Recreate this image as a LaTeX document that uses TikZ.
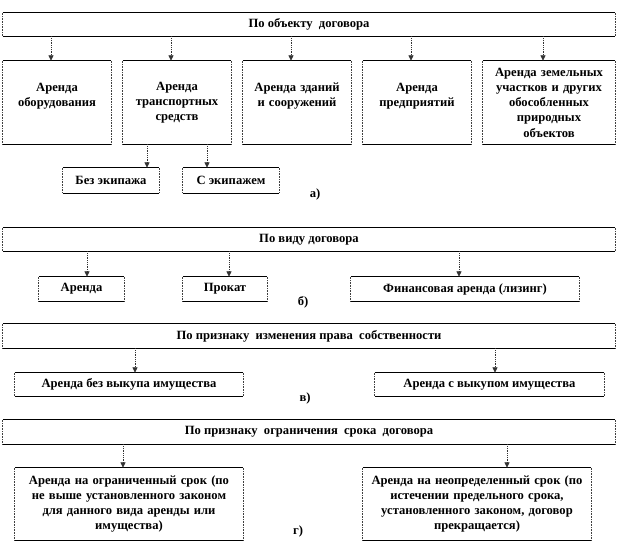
\documentclass[tikz,border=0pt]{standalone}
\usepackage{fontspec}
\setmainfont{Liberation Serif}
\usetikzlibrary{arrows.meta}
\begin{document}
\begin{tikzpicture}[x=1pt,y=1pt,
  bx/.style={inner sep=0pt, align=center, font=\bfseries\fontsize{12.6}{15.3}\selectfont},
  arr/.style={line width=0.8pt, dash pattern=on 1pt off 0.8pt, draw=black!80, -{Triangle[width=5pt,length=5.5pt]}},
  lbl/.style={font=\bfseries\fontsize{12.6}{14}\selectfont, inner sep=0pt},
  solidedge/.style={line width=0.7pt, draw=black},
  dotedge/.style={line width=0.8pt, dash pattern=on 0.8pt off 0.8pt, draw=black!75}]
\useasboundingbox (0,0) rectangle (618,-552);

% ---- section a
\node[bx, minimum width=612pt, minimum height=23pt] (t1) at (309,-24.5) {\raisebox{-1.5pt}{По объекту\ \ договора}};
\node[bx, minimum width=108pt, minimum height=83pt, text width=106pt] (c1) at (57,-102.5) {Аренда\\оборудования\\\mbox{}};
\node[bx, minimum width=108pt, minimum height=83pt, text width=106pt] (c2) at (177,-102.5) {Аренда\\транспортных\\средств};
\node[bx, minimum width=108pt, minimum height=83pt, text width=106pt] (c3) at (297,-102.5) {Аренда зданий\\и сооружений\\\mbox{}};
\node[bx, minimum width=108pt, minimum height=83pt, text width=106pt] (c4) at (417,-102.5) {Аренда\\предприятий\\\mbox{}};
\node[bx, minimum width=132pt, minimum height=83pt, text width=130pt] (c5) at (549,-102.5) {Аренда земельных\\участков и других\\обособленных\\природных\\объектов};
\node[bx, minimum width=96pt, minimum height=25pt] (s1) at (111,-180.5) {Без экипажа};
\node[bx, minimum width=96pt, minimum height=25pt] (s2) at (231,-180.5) {С экипажем};
\node[lbl] (la) at (315,-194) {а)};

% ---- section b
\node[bx, minimum width=612pt, minimum height=23pt] (t2) at (309,-239.5) {\raisebox{-1.5pt}{По виду договора}};
\node[bx, minimum width=85pt, minimum height=24pt] (b1) at (81.5,-289) {Аренда};
\node[bx, minimum width=84pt, minimum height=24pt] (b2) at (225,-289) {Прокат};
\node[bx, minimum width=228pt, minimum height=24pt] (b3) at (465,-289) {Финансовая аренда (лизинг)};
\node[lbl] (lb) at (303,-302) {б)};

% ---- section c
\node[bx, minimum width=612pt, minimum height=24pt] (t3) at (309,-336) {\raisebox{-1.5pt}{По признаку\ \ изменения права\ \ собственности}};
\node[bx, minimum width=228pt, minimum height=23pt] (v1) at (129,-384.5) {Аренда без выкупа имущества};
\node[bx, minimum width=229pt, minimum height=23pt] (v2) at (489.5,-384.5) {Аренда с выкупом имущества};
\node[lbl] (lc) at (305,-398) {в)};

% ---- section d
\node[bx, minimum width=612pt, minimum height=24pt] (t4) at (309,-432) {\raisebox{-1.5pt}{По признаку\ \ ограничения\ \ срока\ \ договора}};
\node[bx, minimum width=228pt, minimum height=72pt, text width=226pt] (g1) at (129,-504) {Аренда на ограниченный срок (по\\не выше установленного законом\\для данного вида аренды или\\имущества)};
\node[bx, minimum width=228pt, minimum height=72pt, text width=226pt] (g2) at (477,-504) {Аренда на неопределенный срок (по\\истечении предельного срока,\\установленного законом, договор\\прекращается)};
\node[lbl] (ld) at (298,-531) {г)};

% ---- box borders
\foreach \n in {t1,c1,c2,c3,c4,c5,s1,s2,t2,b1,b2,b3,t3,v1,v2,t4,g1,g2}{
  \draw[dotedge] (\n.north west) -- (\n.south west);
  \draw[dotedge] (\n.north east) -- (\n.south east);
  \draw[solidedge] (\n.north west) -- (\n.north east);
  \draw[solidedge] (\n.south west) -- (\n.south east);
}

% ---- arrows
\foreach \n in {c1,c2,c3,c4,c5}{
  \draw[arr] ([xshift=-6pt]\n.north |- t1.south) -- ([xshift=-6pt]\n.north);
}
\draw[arr] ([xshift=-30pt]c2.south) -- ([xshift=-30pt]c2.south |- s1.north);
\draw[arr] ([xshift=30pt]c2.south) -- ([xshift=30pt]c2.south |- s2.north);

\draw[arr] ([xshift=5.5pt]b1.north |- t2.south) -- ([xshift=5.5pt]b1.north);
\draw[arr] ([xshift=4pt]b2.north |- t2.south) -- ([xshift=4pt]b2.north);
\draw[arr] ([xshift=-6pt]b3.north |- t2.south) -- ([xshift=-6pt]b3.north);

\draw[arr] ([xshift=6pt]v1.north |- t3.south) -- ([xshift=6pt]v1.north);
\draw[arr] ([xshift=5.5pt]v2.north |- t3.south) -- ([xshift=5.5pt]v2.north);

\draw[arr] ([xshift=-6pt]g1.north |- t4.south) -- ([xshift=-6pt]g1.north);
\draw[arr] ([xshift=30pt]g2.north |- t4.south) -- ([xshift=30pt]g2.north);
\end{tikzpicture}
\end{document}
